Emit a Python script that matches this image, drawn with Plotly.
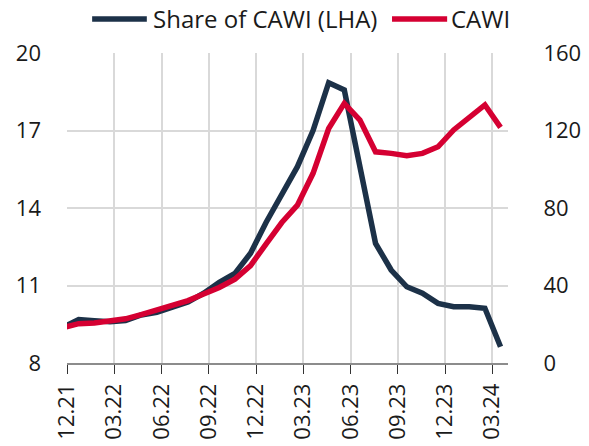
import numpy as np
import plotly.graph_objects as go

# periods (monthly observations; first one falls just before the axis start)
periods = list(range(29))
share_cawi = [9.38, 9.68, 9.64, 9.6, 9.64, 9.86, 9.96, 10.16, 10.36, 10.7,
              11.12, 11.47, 12.25, 13.45, 14.55, 15.6, 17.0, 18.85, 18.57, 15.5,
              12.63, 11.6, 10.95, 10.7, 10.31, 10.18, 10.18, 10.12, 8.63]
cawi = [18.2, 20.3, 20.7, 21.5, 22.8, 25.0, 27.4, 29.6, 32.2, 35.6,
        39.0, 43.3, 50.3, 61.5, 72.5, 81.5, 97.9, 121.0, 134.0, 125.4,
        109.0, 108.2, 107.0, 108.2, 111.6, 120.3, 127.1, 133.2, 121.6]
series_names = ["Share of CAWI (LHA)", "CAWI"]
tick_labels = ["12.21", "03.22", "06.22", "09.22", "12.22", "03.23",
               "06.23", "09.23", "12.23", "03.24"]
left_ticks = [8, 11, 14, 17, 20]
right_ticks = [0, 40, 80, 120, 160]

# observation positions in axis months (axis starts at 12.21)
start, step = -0.25, 0.992
x = [start + p * step for p in periods]
tickvals = [3 * k for k in range(len(tick_labels))]

NAVY = "#1c3148"
RED = "#d50032"
FONT = "Open Sans"
TXT = "#1a1a1a"

fig = go.Figure()
fig.add_trace(go.Scatter(x=x, y=share_cawi, name=series_names[0], mode="lines",
                         line=dict(color=NAVY, width=5.5), yaxis="y", showlegend=False))
fig.add_trace(go.Scatter(x=x, y=cawi, name=series_names[1], mode="lines",
                         line=dict(color=RED, width=5.5), yaxis="y2", showlegend=False))

# custom legend (longer line keys as in the reference)
legend_y = 1.11
legend_items = [
    (series_names[0], NAVY, 0.057, 0.181, 0.19),
    (series_names[1], RED, 0.737, 0.862, 0.866),
]
for name, col, x0, x1, xt in legend_items:
    fig.add_shape(type="line", xref="paper", yref="paper", x0=x0, x1=x1,
                  y0=legend_y, y1=legend_y, line=dict(color=col, width=5.5))
    fig.add_annotation(xref="paper", yref="paper", x=xt, y=legend_y, text=name,
                       showarrow=False, xanchor="left", yanchor="middle",
                       font=dict(family=FONT, size=24, color=TXT))

fig.update_layout(
    width=589, height=446,
    margin=dict(l=67, r=81, t=53, b=83, autoexpand=False),
    paper_bgcolor="white", plot_bgcolor="white",
    font=dict(family=FONT, size=22, color=TXT),
    showlegend=False,
    xaxis=dict(range=[0, 28], tickmode="array", tickvals=tickvals, ticktext=tick_labels,
               tickangle=-90, showgrid=True, gridcolor="#d9d9d9", gridwidth=1.5,
               showline=True, linecolor="#8c8c8c", linewidth=1.5,
               ticks="outside", ticklen=9, tickcolor="#333333", tickwidth=1.2,
               zeroline=False, tickfont=dict(size=22), ticklabelstandoff=1),
    yaxis=dict(range=[8, 20], tickmode="array", tickvals=left_ticks,
               showgrid=True, gridcolor="#d9d9d9", gridwidth=1.5, zeroline=False,
               showline=False, ticks="", ticklabelstandoff=25, tickfont=dict(size=22)),
    yaxis2=dict(range=[0, 160], tickmode="array", tickvals=right_ticks, overlaying="y",
                side="right", showgrid=False, zeroline=False, showline=False,
                ticks="outside", ticklen=30, tickcolor="rgba(0,0,0,0)",
                tickfont=dict(size=22)),
)

fig.write_html("out.html", config={"displayModeBar": False},
               post_script="document.body.style.margin='0';document.body.style.overflow='hidden';")
